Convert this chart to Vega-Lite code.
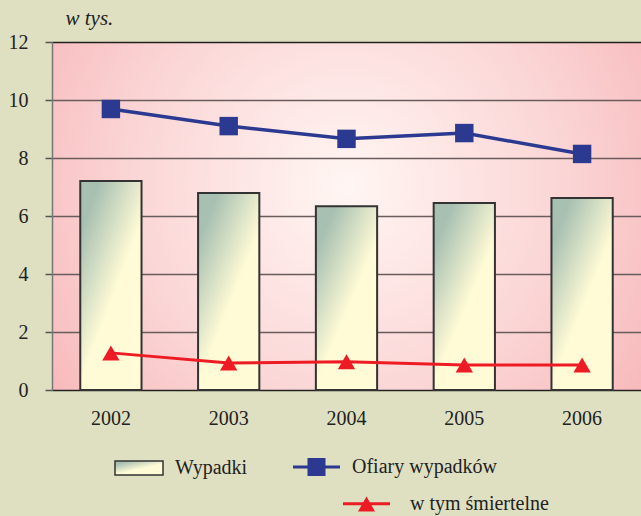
{
  "$schema": "https://vega.github.io/schema/vega-lite/v6.json",
  "width": 589,
  "height": 348,
  "autosize": {"type": "none"},
  "padding": {"left": 52, "top": 42, "right": 0, "bottom": 126},
  "background": "#dee0c1",
  "view": {
    "stroke": null,
    "fill": {
      "gradient": "radial",
      "x1": 0.5, "y1": 0.45, "r1": 0,
      "x2": 0.5, "y2": 0.45, "r2": 0.72,
      "stops": [
        {"offset": 0, "color": "#fff6f3"},
        {"offset": 0.5, "color": "#fbd6d6"},
        {"offset": 1, "color": "#f6adb0"}
      ]
    }
  },
  "config": {
    "font": "Liberation Serif",
    "axis": {"labelFont": "Liberation Serif", "titleFont": "Liberation Serif"},
    "legend": {"labelFont": "Liberation Serif", "labelFontSize": 20, "labelColor": "#222", "symbolSize": 2500, "orient": "none", "title": null}
  },
  "data": {
    "values": [
      {"year": "2002", "wypadki": 7.21, "ofiary": 9.69, "smiertelne": 1.28},
      {"year": "2003", "wypadki": 6.79, "ofiary": 9.10, "smiertelne": 0.93},
      {"year": "2004", "wypadki": 6.34, "ofiary": 8.66, "smiertelne": 0.97},
      {"year": "2005", "wypadki": 6.45, "ofiary": 8.86, "smiertelne": 0.86},
      {"year": "2006", "wypadki": 6.62, "ofiary": 8.14, "smiertelne": 0.86}
    ]
  },
  "encoding": {
    "x": {
      "field": "year",
      "type": "ordinal",
      "scale": {"paddingInner": 0.48, "paddingOuter": 0.24},
      "axis": {"title": null, "labelAngle": 0, "labelFontSize": 20, "labelColor": "#222", "labelPadding": 18, "domain": false, "ticks": false, "grid": false}
    }
  },
  "layer": [
    {
      "mark": {
        "type": "bar",
        "strokeWidth": 2,
        "fill": {
          "gradient": "linear",
          "x1": 0, "y1": 0.25, "x2": 0.35, "y2": 0.7,
          "stops": [
            {"offset": 0, "color": "#a8c0b2"},
            {"offset": 1, "color": "#fffbd6"}
          ]
        }
      },
      "encoding": {
        "y": {
          "field": "wypadki",
          "type": "quantitative",
          "scale": {"domain": [0, 12], "nice": false},
          "axis": {
            "values": [0, 2, 4, 6, 8, 10, 12],
            "title": "w tys.",
            "titleAngle": 0,
            "titleX": 13,
            "titleY": -24,
            "titleAlign": "left",
            "titleBaseline": "middle",
            "titleFontStyle": "italic",
            "titleFontWeight": "normal",
            "titleFontSize": 21,
            "titleColor": "#222",
            "labelFontSize": 20,
            "labelColor": "#222",
            "labelPadding": 17,
            "tickSize": 7,
            "tickColor": "#555",
            "tickWidth": 1.5,
            "domainColor": "#777",
            "domainWidth": 1.5,
            "gridColor": {"condition": {"test": "datum.value === 12 || datum.value === 0", "value": "#222"}, "value": "#6a5c5c"},
            "gridWidth": 1.5
          }
        },
        "stroke": {
          "datum": "Wypadki",
          "scale": {"range": ["#333333"]},
          "legend": {
            "legendX": 61,
            "legendY": 400,
            "labelOffset": 10,
            "symbolType": "M-0.96,-0.28H0.96V0.28H-0.96Z",
            "encode": {
              "symbols": {
                "update": {
                  "fill": {"value": {"gradient": "linear", "x1": 0, "y1": 0, "x2": 1, "y2": 0, "stops": [{"offset": 0, "color": "#a8c0b2"}, {"offset": 1, "color": "#fffbd6"}]}},
                  "stroke": {"value": "#333333"},
                  "strokeWidth": {"value": 2.5},
                  "opacity": {"value": 1}
                }
              }
            }
          }
        }
      }
    },
    {
      "mark": {"type": "line", "strokeWidth": 3.5, "point": {"shape": "square", "size": 340, "filled": true, "opacity": 1}},
      "encoding": {
        "y": {"field": "ofiary", "type": "quantitative"},
        "color": {
          "datum": "Ofiary wypadków",
          "scale": {"range": ["#2b3990"]},
          "legend": {
            "legendX": 239.5,
            "legendY": 400,
            "labelOffset": 10.5,
            "symbolType": "M-0.94,-0.06H0.94V0.06H-0.94Z M-0.36,-0.36H0.36V0.36H-0.36Z",
            "encode": {
              "symbols": {
                "update": {
                  "fill": {"value": "#2b3990"},
                  "stroke": {"value": "transparent"},
                  "strokeWidth": {"value": 0},
                  "opacity": {"value": 1}
                }
              }
            }
          }
        }
      }
    },
    {
      "mark": {"type": "line", "strokeWidth": 3, "point": {"shape": "triangle-up", "size": 300, "filled": true, "opacity": 1}},
      "encoding": {
        "y": {"field": "smiertelne", "type": "quantitative"},
        "color": {
          "datum": "w tym śmiertelne",
          "scale": {"range": ["#ed1c24"]},
          "legend": {
            "legendX": 289.5,
            "legendY": 437,
            "labelOffset": 18.5,
            "symbolType": "M-0.94,-0.07H0.94V0.05H-0.94Z M0,-0.3L0.34,0.3H-0.34Z",
            "encode": {
              "symbols": {
                "update": {
                  "fill": {"value": "#ed1c24"},
                  "stroke": {"value": "transparent"},
                  "strokeWidth": {"value": 0},
                  "opacity": {"value": 1}
                }
              }
            }
          }
        }
      }
    }
  ],
  "resolve": {"scale": {"color": "independent"}, "legend": {"color": "independent"}}
}
